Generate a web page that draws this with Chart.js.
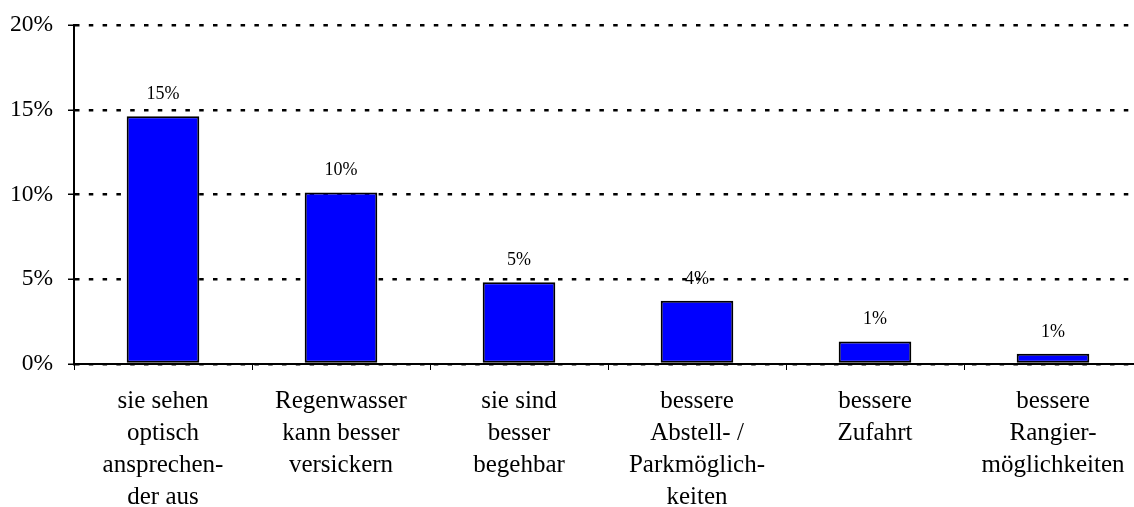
<!DOCTYPE html>
<html>
<head>
<meta charset="utf-8">
<script src="https://cdn.jsdelivr.net/npm/chart.js@4/dist/chart.umd.min.js"></script>
<style>
  html, body { margin: 0; padding: 0; background: #fff; overflow: hidden; }
  #wrap { width: 1150px; height: 507px; }
</style>
</head>
<body>
<div id="wrap"><canvas id="c" width="1150" height="507"></canvas></div>
<script>
const categories = [
  ["sie sehen", "optisch", "ansprechen-", "der aus"],
  ["Regenwasser", "kann besser", "versickern"],
  ["sie sind", "besser", "begehbar"],
  ["bessere", "Abstell- /", "Parkmöglich-", "keiten"],
  ["bessere", "Zufahrt"],
  ["bessere", "Rangier-", "möglichkeiten"]
];
const values = [14.62, 10.12, 4.83, 3.73, 1.33, 0.60];
const valueLabels = ["15%", "10%", "5%", "4%", "1%", "1%"];
const yTicks = [0, 5, 10, 15, 20];

const FONT = "'Liberation Serif', 'Times New Roman', serif";

const dataLabelPlugin = {
  id: 'dataLabels',
  afterDatasetsDraw(chart) {
    const ctx = chart.ctx;
    const meta = chart.getDatasetMeta(0);
    ctx.save();
    ctx.font = "18px " + FONT;
    ctx.fillStyle = "#000";
    ctx.textAlign = "center";
    ctx.textBaseline = "alphabetic";
    meta.data.forEach((el, i) => {
      ctx.fillText(valueLabels[i], el.x, el.y - 17);
    });
    ctx.restore();
  }
};

new Chart(document.getElementById('c'), {
  type: 'bar',
  data: {
    labels: categories,
    datasets: [{
      data: values,
      backgroundColor: '#0000FF',
      borderColor: '#000000',
      borderWidth: 2,
      borderSkipped: false,
      barPercentage: 0.408,
      categoryPercentage: 1.0
    }]
  },
  options: {
    responsive: false,
    animation: false,
    events: [],
    layout: { padding: { top: 25, right: 8, left: 0, bottom: 0 } },
    plugins: { legend: { display: false }, tooltip: { enabled: false } },
    scales: {
      x: {
        grid: {
          offset: true,
          drawOnChartArea: false,
          drawTicks: true,
          tickLength: 6,
          tickColor: '#000',
          tickWidth: 1
        },
        border: { display: true, color: '#000', width: 2 },
        ticks: {
          color: '#000',
          padding: 16,
          maxRotation: 0,
          autoSkip: false,
          font: { family: FONT, size: 25, lineHeight: 1.27 }
        },
        afterFit(scale) { scale.height = 143; }
      },
      y: {
        min: 0,
        max: 20,
        afterBuildTicks(scale) { scale.ticks = yTicks.map(v => ({ value: v })); },
        grid: {
          color: '#000',
          lineWidth: 2.5,
          drawTicks: true,
          tickLength: 6,
          tickColor: '#000',
          tickWidth: 1.5
        },
        border: { display: true, color: '#000', width: 2, dash: [4.5, 9.3] },
        ticks: {
          color: '#000',
          padding: 15,
          callback: (v) => v + '%',
          font: { family: FONT, size: 23.5 }
        },
        afterFit(scale) {
          scale.width = 74;
          scale.paddingTop = 0;
          scale.paddingBottom = 0;
        }
      }
    }
  },
  plugins: [dataLabelPlugin]
});
</script>
</body>
</html>
